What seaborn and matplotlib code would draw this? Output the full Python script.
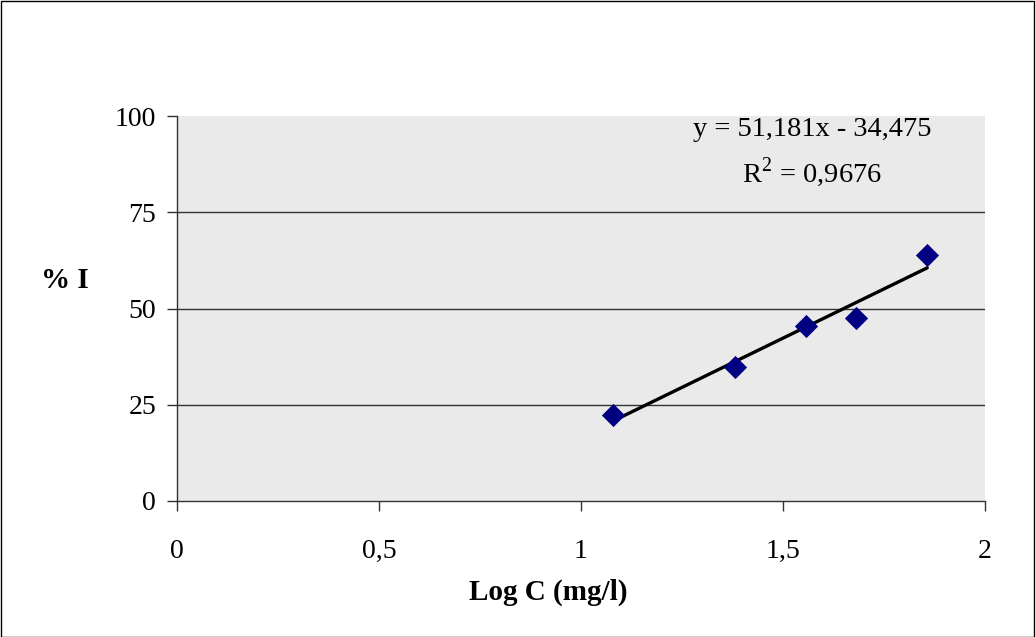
import numpy as np
import pandas as pd
import matplotlib
matplotlib.use("Agg")
import matplotlib.pyplot as plt
import seaborn as sns
from matplotlib.patches import Rectangle

# ---- data ----
log_c = [1.079, 1.380, 1.556, 1.681, 1.857]
pct_i = [22.3, 34.9, 45.5, 47.6, 63.9]
x_ticks = [0, 0.5, 1, 1.5, 2]
x_tick_labels = ["0", "0,5", "1", "1,5", "2"]
y_ticks = [0, 25, 50, 75, 100]
y_tick_labels = ["0", "25", "50", "75", "100"]
eq_text = "y = 51,181x - 34,475"
r2_text = "R$^{2}$ = 0,9676"
x_label = "Log C (mg/l)"
y_label = "% I"

df = pd.DataFrame({"logC": log_c, "I": pct_i})

sns.set_theme(style="white")
plt.rcParams["font.family"] = ["Liberation Serif", "DejaVu Serif"]
plt.rcParams["mathtext.fontset"] = "custom"
plt.rcParams["mathtext.rm"] = "Liberation Serif"
for k in ["text.color", "axes.labelcolor", "xtick.color", "ytick.color"]:
    plt.rcParams[k] = "black"

fig = plt.figure(figsize=(10.35, 6.37), dpi=100)
fig.patch.set_facecolor("white")
ax = fig.add_axes([177 / 1035, 1 - 501 / 637, 808 / 1035, 385 / 637])
ax.set_facecolor("#eaeaea")

# gridlines
for yv in [25, 50, 75]:
    ax.axhline(yv, color="#333333", lw=1.0, zorder=1)

sns.regplot(data=df, x="logC", y="I", ax=ax, scatter=False, ci=None,
            line_kws=dict(color="black", lw=2.4, zorder=3), truncate=True)
sns.scatterplot(data=df, x="logC", y="I", ax=ax, marker="D", s=140,
                color="#000080", edgecolor="#000080", linewidth=0, zorder=4)

ax.set_xlim(0, 2)
ax.set_ylim(0, 100)
ax.set_xticks(x_ticks)
ax.set_xticklabels(x_tick_labels)
ax.set_yticks(y_ticks)
ax.set_yticklabels(y_tick_labels)
ax.tick_params(axis="x", direction="out", length=7, width=1, color="#333333",
               labelcolor="black", pad=20, labelsize=20, bottom=True)
ax.tick_params(axis="y", direction="out", length=7, width=1, color="#333333",
               labelcolor="black", pad=8, labelsize=20, left=True)

for s in ["top", "right"]:
    ax.spines[s].set_visible(False)
for s in ["left", "bottom"]:
    ax.spines[s].set_color("#333333")
    ax.spines[s].set_linewidth(1.0)

ax.set_xlabel(x_label, fontsize=21, fontweight="bold", color="black")
ax.set_ylabel(y_label, fontsize=21, fontweight="bold", rotation=0, color="black")
ax.xaxis.set_label_coords(0.459, -0.236)
ax.yaxis.set_label_coords(-0.139, 0.574)
ax.xaxis.label.set_va("center")
ax.yaxis.label.set_va("center")
ax.yaxis.label.set_ha("center")

ax.text(0.786, 0.966, eq_text, transform=ax.transAxes, ha="center", va="center",
        fontsize=20.5, color="black", zorder=5)
ax.text(0.786, 0.855, r2_text, transform=ax.transAxes, ha="center", va="center",
        fontsize=20.5, color="black", zorder=5)

# outer chart border
fig.add_artist(Rectangle((0.5 / 1035, 0.5 / 637), 1 - 1.5 / 1035, 1 - 1.5 / 637,
                         transform=fig.transFigure, fill=False, edgecolor="black",
                         lw=1.0))

fig.savefig("out.png", dpi=100)
